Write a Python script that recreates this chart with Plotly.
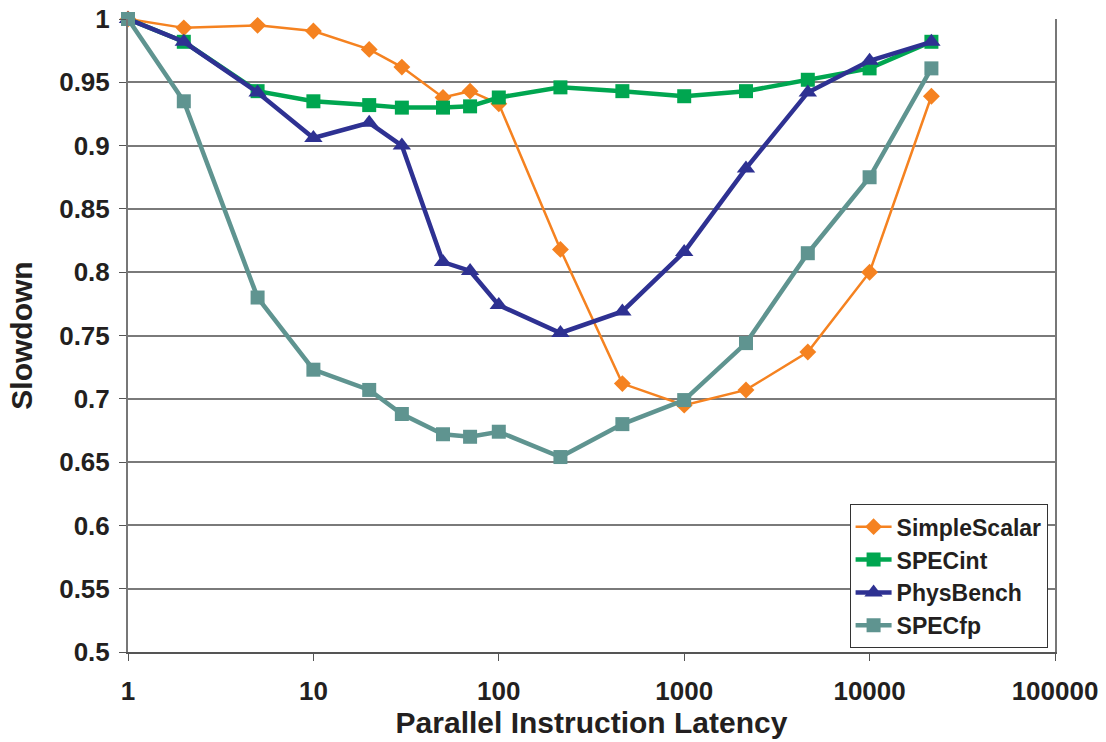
import plotly.graph_objects as go

# Parallel instruction latency (cycles) sampled on a log scale
latency = [1, 2, 5, 10, 20, 30, 50, 70, 100, 215, 464, 1000, 2154, 4642, 10000, 21544]

simplescalar = [1.0, 0.993, 0.995, 0.9905, 0.976, 0.962, 0.938, 0.943, 0.933,
                0.818, 0.712, 0.695, 0.707, 0.737, 0.800, 0.939]
specint = [1.0, 0.982, 0.943, 0.935, 0.932, 0.930, 0.930, 0.931, 0.938,
           0.946, 0.943, 0.939, 0.943, 0.952, 0.961, 0.982]
physbench = [1.0, 0.982, 0.942, 0.906, 0.918, 0.900, 0.808, 0.801, 0.774,
             0.752, 0.769, 0.816, 0.882, 0.942, 0.967, 0.982]
specfp = [1.0, 0.935, 0.780, 0.723, 0.707, 0.688, 0.672, 0.670, 0.674,
          0.654, 0.680, 0.699, 0.744, 0.815, 0.875, 0.961]

x_tickvals = [1, 10, 100, 1000, 10000, 100000]
x_ticktext = ["1", "10", "100", "1000", "10000", "100000"]

FONT = "Liberation Sans, Arial, sans-serif"
TEXT = "#231f20"

series = [
    ("SimpleScalar", simplescalar, "#f58220", "diamond", 13, 2.5),
    ("SPECint", specint, "#00a650", "square", 14, 4.5),
    ("PhysBench", physbench, "#2e3192", "triangle-up", 16, 4.5),
    ("SPECfp", specfp, "#5f9490", "square", 14, 4.5),
]

fig = go.Figure()
for name, vals, color, symbol, msize, lw in series:
    fig.add_trace(go.Scatter(
        x=latency, y=vals, name=name, mode="lines+markers",
        line=dict(color=color, width=lw),
        marker=dict(symbol=symbol, size=msize, color=color),
        legendgroup=name, cliponaxis=False,
    ))

fig.update_layout(
    width=1106, height=742,
    margin=dict(l=128, r=51, t=19, b=90),
    paper_bgcolor="white", plot_bgcolor="white",
    font=dict(family=FONT, color=TEXT, size=26, weight=700),
    showlegend=True,
    legend=dict(
        x=0.992, y=0.006, xanchor="right", yanchor="bottom",
        bordercolor="#333333", borderwidth=1, bgcolor="white",
        font=dict(family=FONT, size=23, color=TEXT, weight=700),
        tracegroupgap=0, itemwidth=36,
    ),
)

fig.update_xaxes(
    type="log", range=[0, 5], automargin=False,
    tickvals=x_tickvals, ticktext=x_ticktext,
    ticks="outside", ticklen=7, tickcolor="#555555",
    ticklabelstandoff=8,
    showline=True, linecolor="#555555", linewidth=2, mirror=False,
    showgrid=False, zeroline=False,
    tickfont=dict(family=FONT, size=26, color=TEXT, weight=700),
    title=dict(text="Parallel Instruction Latency", standoff=2,
               font=dict(family=FONT, size=30, color=TEXT, weight=700)),
)

fig.update_yaxes(
    range=[0.5, 1.0], dtick=0.05, tick0=0.5, automargin=False,
    ticks="outside", ticklen=7, tickcolor="#555555",
    ticklabelstandoff=4,
    showline=True, linecolor="#777777", linewidth=2, mirror=True,
    showgrid=True, gridcolor="#7a7a7a", gridwidth=1.5,
    zeroline=False,
    tickfont=dict(family=FONT, size=26, color=TEXT, weight=700),
    title=dict(text="Slowdown", standoff=18,
               font=dict(family=FONT, size=30, color=TEXT, weight=700)),
)

fig.write_html("out.html")
